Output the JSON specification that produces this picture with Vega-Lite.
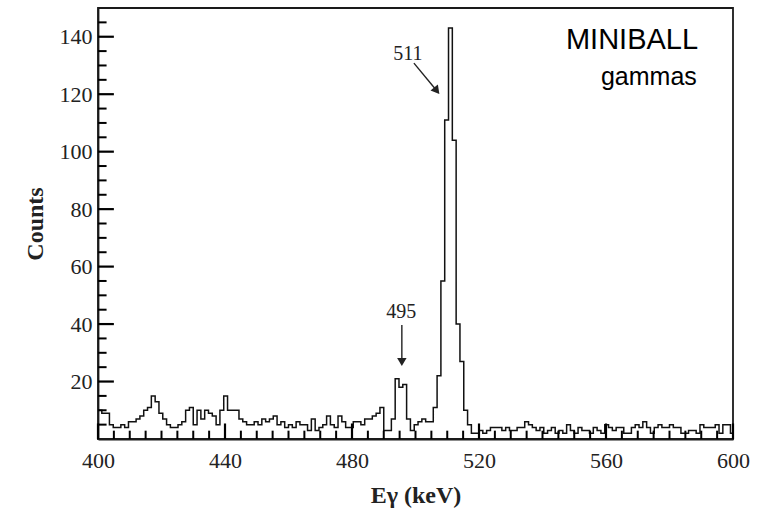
{
  "$schema": "https://vega.github.io/schema/vega-lite/v6.json",
  "width": 635,
  "height": 431,
  "autosize": {"type": "none"},
  "padding": {"left": 98, "top": 8, "right": 27, "bottom": 73},
  "background": "white",
  "config": {"view": {"stroke": "#1a1a1a", "strokeWidth": 1.8}, "font": "Liberation Serif"},
  "datasets": {
    "spectrum": [
      {"e": 400.0, "c": 10}, {"e": 401.2, "c": 9}, {"e": 402.4, "c": 9}, {"e": 403.6, "c": 5}, {"e": 404.8, "c": 4},
      {"e": 406.0, "c": 4}, {"e": 407.2, "c": 5}, {"e": 408.4, "c": 4}, {"e": 409.6, "c": 6}, {"e": 410.8, "c": 6},
      {"e": 412.0, "c": 7}, {"e": 413.2, "c": 8}, {"e": 414.4, "c": 10}, {"e": 415.6, "c": 11}, {"e": 416.8, "c": 15},
      {"e": 418.0, "c": 13}, {"e": 419.2, "c": 9}, {"e": 420.4, "c": 7}, {"e": 421.6, "c": 5}, {"e": 422.8, "c": 4},
      {"e": 424.0, "c": 4}, {"e": 425.2, "c": 5}, {"e": 426.4, "c": 6}, {"e": 427.6, "c": 10}, {"e": 428.8, "c": 11},
      {"e": 430.0, "c": 5}, {"e": 431.2, "c": 10}, {"e": 432.4, "c": 7}, {"e": 433.6, "c": 10}, {"e": 434.8, "c": 9},
      {"e": 436.0, "c": 8}, {"e": 437.2, "c": 5}, {"e": 438.4, "c": 10}, {"e": 439.6, "c": 15}, {"e": 440.8, "c": 10},
      {"e": 442.0, "c": 10}, {"e": 443.2, "c": 10}, {"e": 444.4, "c": 7}, {"e": 445.6, "c": 6}, {"e": 446.8, "c": 5},
      {"e": 448.0, "c": 5}, {"e": 449.2, "c": 6}, {"e": 450.4, "c": 5}, {"e": 451.6, "c": 7}, {"e": 452.8, "c": 6},
      {"e": 454.0, "c": 7}, {"e": 455.2, "c": 8}, {"e": 456.4, "c": 5}, {"e": 457.6, "c": 6}, {"e": 458.8, "c": 4},
      {"e": 460.0, "c": 5}, {"e": 461.2, "c": 4}, {"e": 462.4, "c": 6}, {"e": 463.6, "c": 5}, {"e": 464.8, "c": 5},
      {"e": 466.0, "c": 3}, {"e": 467.2, "c": 7}, {"e": 468.4, "c": 3}, {"e": 469.6, "c": 4}, {"e": 470.8, "c": 5},
      {"e": 472.0, "c": 8}, {"e": 473.2, "c": 5}, {"e": 474.4, "c": 4}, {"e": 475.6, "c": 8}, {"e": 476.8, "c": 6},
      {"e": 478.0, "c": 4}, {"e": 479.2, "c": 4}, {"e": 480.4, "c": 6}, {"e": 481.6, "c": 6}, {"e": 482.8, "c": 5},
      {"e": 484.0, "c": 7}, {"e": 485.2, "c": 7}, {"e": 486.4, "c": 8}, {"e": 487.6, "c": 9}, {"e": 488.8, "c": 11},
      {"e": 490.0, "c": 3}, {"e": 491.2, "c": 3}, {"e": 492.4, "c": 7}, {"e": 493.6, "c": 21}, {"e": 494.8, "c": 18},
      {"e": 496.0, "c": 19}, {"e": 497.2, "c": 7}, {"e": 498.4, "c": 3}, {"e": 499.6, "c": 5}, {"e": 500.8, "c": 6},
      {"e": 502.0, "c": 7}, {"e": 503.2, "c": 6}, {"e": 504.4, "c": 6}, {"e": 505.6, "c": 11}, {"e": 506.8, "c": 22},
      {"e": 508.0, "c": 55}, {"e": 509.2, "c": 111}, {"e": 510.4, "c": 143}, {"e": 511.6, "c": 104}, {"e": 512.8, "c": 40},
      {"e": 514.0, "c": 27}, {"e": 515.2, "c": 10}, {"e": 516.4, "c": 5}, {"e": 517.6, "c": 2}, {"e": 518.8, "c": 2},
      {"e": 520.0, "c": 3}, {"e": 521.2, "c": 2}, {"e": 522.4, "c": 3}, {"e": 523.6, "c": 4}, {"e": 524.8, "c": 4},
      {"e": 526.0, "c": 4}, {"e": 527.2, "c": 3}, {"e": 528.4, "c": 4}, {"e": 529.6, "c": 3}, {"e": 530.8, "c": 3},
      {"e": 532.0, "c": 4}, {"e": 533.2, "c": 4}, {"e": 534.4, "c": 6}, {"e": 535.6, "c": 5}, {"e": 536.8, "c": 4},
      {"e": 538.0, "c": 3}, {"e": 539.2, "c": 4}, {"e": 540.4, "c": 2}, {"e": 541.6, "c": 3}, {"e": 542.8, "c": 4},
      {"e": 544.0, "c": 2}, {"e": 545.2, "c": 3}, {"e": 546.4, "c": 2}, {"e": 547.6, "c": 5}, {"e": 548.8, "c": 3},
      {"e": 550.0, "c": 2}, {"e": 551.2, "c": 4}, {"e": 552.4, "c": 3}, {"e": 553.6, "c": 3}, {"e": 554.8, "c": 2},
      {"e": 556.0, "c": 4}, {"e": 557.2, "c": 3}, {"e": 558.4, "c": 2}, {"e": 559.6, "c": 5}, {"e": 560.8, "c": 4},
      {"e": 562.0, "c": 3}, {"e": 563.2, "c": 4}, {"e": 564.4, "c": 4}, {"e": 565.6, "c": 2}, {"e": 566.8, "c": 2},
      {"e": 568.0, "c": 4}, {"e": 569.2, "c": 5}, {"e": 570.4, "c": 4}, {"e": 571.6, "c": 6}, {"e": 572.8, "c": 4},
      {"e": 574.0, "c": 2}, {"e": 575.2, "c": 4}, {"e": 576.4, "c": 5}, {"e": 577.6, "c": 4}, {"e": 578.8, "c": 4},
      {"e": 580.0, "c": 5}, {"e": 581.2, "c": 4}, {"e": 582.4, "c": 4}, {"e": 583.6, "c": 2}, {"e": 584.8, "c": 2},
      {"e": 586.0, "c": 3}, {"e": 587.2, "c": 3}, {"e": 588.4, "c": 2}, {"e": 589.6, "c": 5}, {"e": 590.8, "c": 4},
      {"e": 592.0, "c": 4}, {"e": 593.2, "c": 4}, {"e": 594.4, "c": 5}, {"e": 595.6, "c": 2}, {"e": 596.8, "c": 5},
      {"e": 598.0, "c": 5}, {"e": 599.2, "c": 2}, {"e": 600.0, "c": 2}
    ],
    "xmajor": [{"v": 400}, {"v": 440}, {"v": 480}, {"v": 520}, {"v": 560}, {"v": 600}],
    "xminor": [
      {"v": 405}, {"v": 410}, {"v": 415}, {"v": 420}, {"v": 425}, {"v": 430}, {"v": 435},
      {"v": 445}, {"v": 450}, {"v": 455}, {"v": 460}, {"v": 465}, {"v": 470}, {"v": 475},
      {"v": 485}, {"v": 490}, {"v": 495}, {"v": 500}, {"v": 505}, {"v": 510}, {"v": 515},
      {"v": 525}, {"v": 530}, {"v": 535}, {"v": 540}, {"v": 545}, {"v": 550}, {"v": 555},
      {"v": 565}, {"v": 570}, {"v": 575}, {"v": 580}, {"v": 585}, {"v": 590}, {"v": 595}
    ],
    "ymajor": [{"v": 20}, {"v": 40}, {"v": 60}, {"v": 80}, {"v": 100}, {"v": 120}, {"v": 140}],
    "yminor": [
      {"v": 5}, {"v": 10}, {"v": 15}, {"v": 25}, {"v": 30}, {"v": 35}, {"v": 45}, {"v": 50}, {"v": 55},
      {"v": 65}, {"v": 70}, {"v": 75}, {"v": 85}, {"v": 90}, {"v": 95}, {"v": 105}, {"v": 110}, {"v": 115},
      {"v": 125}, {"v": 130}, {"v": 135}, {"v": 145}
    ],
    "peaklabels": [
      {"e": 497.6, "c": 134, "t": "511"},
      {"e": 495.5, "c": 44.3, "t": "495"}
    ],
    "boxtext": [
      {"e": 568.2, "c": 139, "t": "MINIBALL", "s": "big"},
      {"e": 573.5, "c": 126, "t": "gammas", "s": "small"}
    ],
    "arrows": [
      {"e": 499.5, "c": 130.8, "e2": 506.7, "c2": 121.2},
      {"e": 495.7, "c": 39.7, "e2": 495.7, "c2": 27.5}
    ],
    "heads": [
      {"e": 506.7, "c": 121.2, "a": 141},
      {"e": 495.7, "c": 26.8, "a": 180}
    ]
  },
  "layer": [
    {
      "data": {"name": "spectrum"},
      "mark": {"type": "line", "interpolate": "step-after", "color": "#111", "strokeWidth": 1.5},
      "encoding": {
        "x": {
          "field": "e", "type": "quantitative",
          "scale": {"domain": [400, 600], "nice": false, "zero": false},
          "axis": {
            "orient": "bottom", "values": [400, 440, 480, 520, 560, 600], "grid": false,
            "ticks": false, "domainColor": "#1a1a1a", "domainWidth": 1.8,
            "labelFont": "Liberation Serif", "labelFontSize": 22, "labelColor": "#222", "labelPadding": 11,
            "labelFlush": false,
            "title": "Eγ (keV)", "titleFont": "Liberation Serif", "titleFontSize": 24, "titleFontWeight": "bold",
            "titleColor": "#222", "titlePadding": 12
          }
        },
        "y": {
          "field": "c", "type": "quantitative",
          "scale": {"domain": [0, 150], "nice": false},
          "axis": {
            "orient": "left", "values": [20, 40, 60, 80, 100, 120, 140], "grid": false,
            "ticks": false, "domainColor": "#1a1a1a", "domainWidth": 1.8,
            "labelFont": "Liberation Serif", "labelFontSize": 22, "labelColor": "#222", "labelPadding": 6,
            "title": "Counts", "titleFont": "Liberation Serif", "titleFontSize": 24, "titleFontWeight": "bold",
            "titleColor": "#222", "titlePadding": 12
          }
        }
      }
    },
    {
      "data": {"name": "xmajor"},
      "mark": {"type": "rule", "color": "#000", "strokeWidth": 2.2},
      "encoding": {
        "x": {"field": "v", "type": "quantitative"},
        "y": {"datum": 0, "type": "quantitative"},
        "y2": {"datum": 5.4}
      }
    },
    {
      "data": {"name": "xminor"},
      "mark": {"type": "rule", "color": "#000", "strokeWidth": 2},
      "encoding": {
        "x": {"field": "v", "type": "quantitative"},
        "y": {"datum": 0, "type": "quantitative"},
        "y2": {"datum": 2.9}
      }
    },
    {
      "data": {"name": "ymajor"},
      "mark": {"type": "rule", "color": "#000", "strokeWidth": 2.2},
      "encoding": {
        "y": {"field": "v", "type": "quantitative"},
        "x": {"datum": 400, "type": "quantitative"},
        "x2": {"datum": 405}
      }
    },
    {
      "data": {"name": "yminor"},
      "mark": {"type": "rule", "color": "#000", "strokeWidth": 2},
      "encoding": {
        "y": {"field": "v", "type": "quantitative"},
        "x": {"datum": 400, "type": "quantitative"},
        "x2": {"datum": 402.7}
      }
    },
    {
      "data": {"name": "arrows"},
      "mark": {"type": "rule", "color": "#222", "strokeWidth": 1.4},
      "encoding": {
        "x": {"field": "e", "type": "quantitative"},
        "y": {"field": "c", "type": "quantitative"},
        "x2": {"field": "e2"},
        "y2": {"field": "c2"}
      }
    },
    {
      "data": {"name": "heads"},
      "mark": {"type": "point", "shape": "triangle-up", "filled": true, "color": "#222", "size": 90, "opacity": 1},
      "encoding": {
        "x": {"field": "e", "type": "quantitative"},
        "y": {"field": "c", "type": "quantitative"},
        "angle": {"field": "a", "type": "quantitative", "scale": null}
      }
    },
    {
      "data": {"name": "peaklabels"},
      "mark": {"type": "text", "font": "Liberation Serif", "fontSize": 20, "color": "#222", "align": "center", "baseline": "middle"},
      "encoding": {
        "x": {"field": "e", "type": "quantitative"},
        "y": {"field": "c", "type": "quantitative"},
        "text": {"field": "t"}
      }
    },
    {
      "data": {"name": "boxtext"},
      "mark": {"type": "text", "font": "Liberation Sans", "color": "#000", "align": "center", "baseline": "middle"},
      "encoding": {
        "x": {"field": "e", "type": "quantitative"},
        "y": {"field": "c", "type": "quantitative"},
        "text": {"field": "t"},
        "size": {"field": "s", "type": "nominal", "scale": {"domain": ["big", "small"], "range": [29, 25]}, "legend": null}
      }
    }
  ]
}
